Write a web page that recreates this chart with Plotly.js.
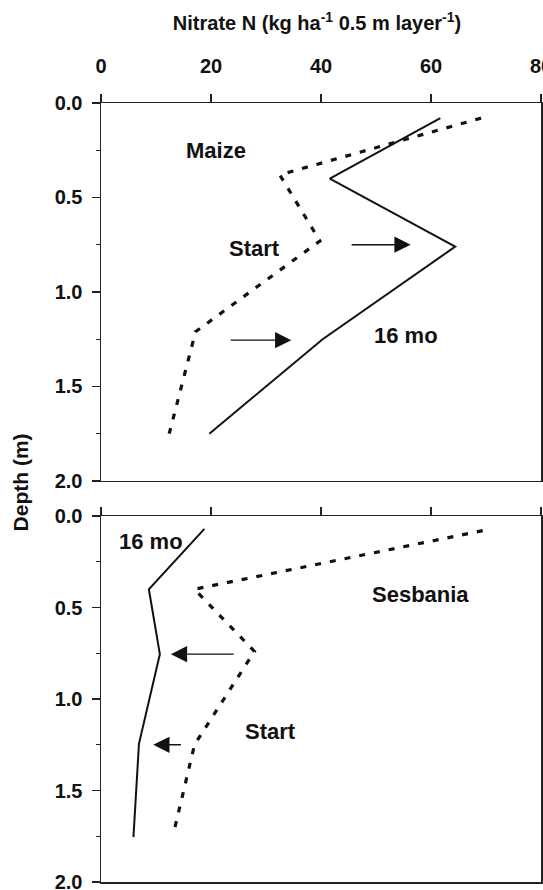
<!DOCTYPE html>
<html>
<head>
<meta charset="utf-8">
<script src="https://cdn.plot.ly/plotly-3.0.1.min.js"></script>
<style>html,body{margin:0;padding:0;background:#fff;}#chart{width:543px;height:890px;}</style>
</head>
<body>
<div id="chart"></div>
<script>
// ---- Data ----
// Maize panel
const maizeStartDepth   = [0.08, 0.38, 0.73, 1.21, 1.75];
const maizeStartNitrate = [69.1, 32.5, 39.8, 17.2, 12.4];
const maize16Depth      = [0.08, 0.40, 0.76, 1.25, 1.75];
const maize16Nitrate    = [61.7, 41.6, 64.4, 40.3, 19.7];
// Sesbania panel
const sesStartDepth     = [0.08, 0.40, 0.74, 1.25, 1.72];
const sesStartNitrate   = [69.4, 17.0, 27.9, 17.0, 13.3];
const ses16Depth        = [0.07, 0.40, 0.755, 1.245, 1.755];
const ses16Nitrate      = [18.8, 8.7, 10.7, 6.9, 5.9];

// Arrows (tail -> tip), in data units
const maizeArrowDepth = [0.75, 1.255];
const maizeArrowTail  = [45.3, 23.3];
const maizeArrowTip   = [56.3, 34.6];
const sesArrowDepth   = [0.755, 1.25];
const sesArrowTail    = [24.4, 14.8];
const sesArrowTip     = [12.7, 9.5];

// Text labels
const maizeLabels = [
  {text: 'Maize', x: 20.9, y: 0.25},
  {text: 'Start', x: 27.9, y: 0.77},
  {text: '16 mo', x: 55.4, y: 1.23}
];
const sesLabels = [
  {text: '16 mo', x: 9.0, y: 0.137},
  {text: 'Sesbania', x: 58.1, y: 0.43},
  {text: 'Start', x: 30.9, y: 1.18}
];

const xTickVals = [0, 20, 40, 60, 80];
const yTickVals = [0, 0.5, 1.0, 1.5, 2.0];
const xTitle = 'Nitrate N (kg ha<sup>-1</sup> 0.5 m layer<sup>-1</sup>)';
const yTitle = 'Depth (m)';

// ---- Styling ----
const FONT = 'Liberation Sans, Arial, Helvetica, sans-serif';
const solid = {color: '#111', width: 2, dash: 'solid'};
const dotted = {color: '#111', width: 3.2, dash: '6px,9px'};

const traces = [
  {x: maizeStartNitrate, y: maizeStartDepth, xaxis: 'x', yaxis: 'y', mode: 'lines', line: dotted},
  {x: maize16Nitrate, y: maize16Depth, xaxis: 'x', yaxis: 'y', mode: 'lines', line: solid},
  {x: sesStartNitrate, y: sesStartDepth, xaxis: 'x2', yaxis: 'y2', mode: 'lines', line: dotted},
  {x: ses16Nitrate, y: ses16Depth, xaxis: 'x2', yaxis: 'y2', mode: 'lines', line: solid}
];

function xAxis(showLabels, anchor) {
  return {
    anchor: anchor, side: 'top', range: [0, 80], tickvals: xTickVals,
    showticklabels: showLabels, ticks: 'outside', ticklen: 8, tickwidth: 1.2, tickcolor: '#222',
    showline: true, linecolor: '#222', linewidth: 1.5, mirror: true,
    showgrid: false, zeroline: false, ticklabelstandoff: 13, ticklabeloverflow: 'allow',
    tickfont: {family: FONT, size: 20, color: '#111', weight: 700}
  };
}
function yAxis(domain, anchor) {
  return {
    domain: domain, anchor: anchor, range: [2, 0], tickvals: yTickVals, tickformat: '.1f',
    ticks: 'outside', ticklen: 8, tickwidth: 1.2, tickcolor: '#222',
    minor: {dtick: 0.25, ticks: 'outside', ticklen: 4, tickwidth: 1, tickcolor: '#222', showgrid: false},
    showline: true, linecolor: '#222', linewidth: 1.5, mirror: true,
    showgrid: false, zeroline: false, ticklabelstandoff: 5, ticklabeloverflow: 'allow',
    tickfont: {family: FONT, size: 20, color: '#111', weight: 700}
  };
}

const annotations = [];
function addArrows(depths, tails, tips, xr, yr) {
  for (let i = 0; i < depths.length; i++) {
    annotations.push({
      x: tips[i], y: depths[i], ax: tails[i], ay: depths[i],
      xref: xr, yref: yr, axref: xr, ayref: yr, text: '',
      showarrow: true, arrowhead: 2, arrowsize: 2.5, arrowwidth: 1.3, arrowcolor: '#111', standoff: 0
    });
  }
}
function addLabels(labels, xr, yr) {
  labels.forEach(l => annotations.push({
    x: l.x, y: l.y, xref: xr, yref: yr, text: l.text, showarrow: false,
    font: {family: FONT, size: 22, color: '#111', weight: 700}
  }));
}
addArrows(maizeArrowDepth, maizeArrowTail, maizeArrowTip, 'x', 'y');
addArrows(sesArrowDepth, sesArrowTail, sesArrowTip, 'x2', 'y2');
addLabels(maizeLabels, 'x', 'y');
addLabels(sesLabels, 'x2', 'y2');
annotations.push({
  x: -0.184, y: 0.513, xref: 'paper', yref: 'paper', xanchor: 'center', yanchor: 'middle',
  text: yTitle, textangle: -90,
  showarrow: false, font: {family: FONT, size: 21, color: '#111', weight: 700}
});

const layout = {
  width: 543, height: 890,
  margin: {l: 101, r: 2, t: 103, b: 8},
  paper_bgcolor: '#fff', plot_bgcolor: '#fff',
  showlegend: false,
  title: {text: xTitle, x: 0.491, xref: 'paper', xanchor: 'center', y: 1 - 23/890, yref: 'container', yanchor: 'middle',
          font: {family: FONT, size: 20, color: '#111', weight: 700}},
  xaxis: xAxis(true, 'y'),
  yaxis: yAxis([0.5148, 1], 'x'),
  xaxis2: xAxis(false, 'y2'),
  yaxis2: yAxis([0, 0.4698], 'x2'),
  annotations: annotations
};

Plotly.newPlot('chart', traces, layout, {displayModeBar: false, staticPlot: true});
</script>
</body>
</html>
